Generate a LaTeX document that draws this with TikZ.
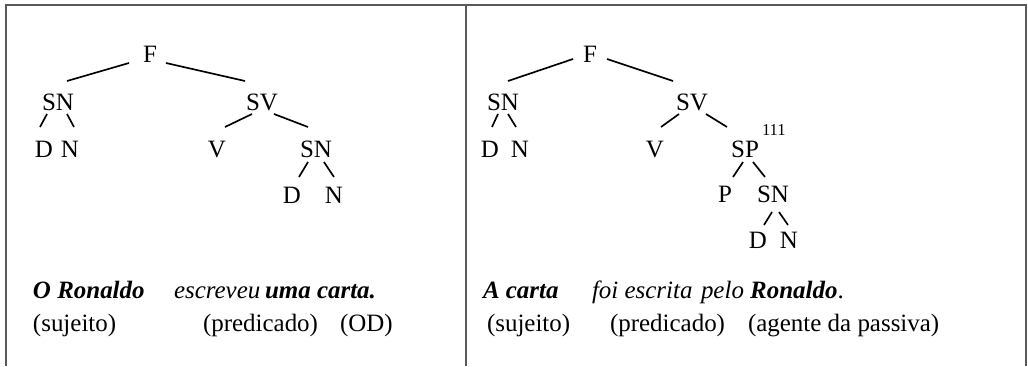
\documentclass[tikz,border=0pt]{standalone}
\usepackage{fontspec}
\setmainfont{Liberation Serif}
\begin{document}
\begin{tikzpicture}[x=0.4808pt,y=-0.4808pt,
  every node/.style={inner sep=0pt,outer sep=0pt},
  lab/.style={anchor=base,font=\fontsize{12}{14}\selectfont},
  txt/.style={anchor=base west,font=\fontsize{12}{14}\selectfont},
  supx/.style={anchor=base west,font=\fontsize{8}{9}\selectfont},
  edge/.style={line width=0.8pt},
  frame/.style={draw=black!65,line width=1pt}]
\useasboundingbox (0,0) rectangle (1028,366);
\draw[frame] (6,366) -- (6,5) -- (1026,5) -- (1026,366);
\draw[frame] (466,5) -- (466,366);

% ---------- left tree ----------
\node[lab] (lF) at (150,62) {F};
\node[lab] (lSN) at (58,110) {SN};
\node[lab] (lSV) at (262,110) {SV};
\node[lab] (lD1) at (44,157) {D};
\node[lab] (lN1) at (70,157) {N};
\node[lab] (lV) at (217,157) {V};
\node[lab] (lSN2) at (316,157) {SN};
\node[lab] (lD2) at (292,203) {D};
\node[lab] (lN2) at (334,203) {N};

\draw[edge] ([shift={(-21,1)}]lF.base) -- ([shift={(9,-29)}]lSN.base);
\draw[edge] ([shift={(16,1)}]lF.base) -- ([shift={(-17,-29)}]lSV.base);
\draw[edge] ([shift={(-11,4)}]lSN.base) -- ([shift={(-4,-30)}]lD1.base);
\draw[edge] ([shift={(9,4)}]lSN.base) -- ([shift={(4,-30)}]lN1.base);
\draw[edge] ([shift={(-10,4)}]lSV.base) -- ([shift={(8,-30)}]lV.base);
\draw[edge] ([shift={(12,4)}]lSV.base) -- ([shift={(-8,-30)}]lSN2.base);
\draw[edge] ([shift={(-8,5)}]lSN2.base) -- ([shift={(7,-26)}]lD2.base);
\draw[edge] ([shift={(8,5)}]lSN2.base) -- ([shift={(0,-26)}]lN2.base);

% ---------- left sentence ----------
\node[txt] (l1a) at (33,298) {\textbf{\textit{O Ronaldo}}};
\node[txt] (l1b) at (174,298) {\textit{escreveu}};
\node[txt] (l1c) at (265,298) {\textbf{\textit{uma carta.}}};
\node[txt] (l2a) at (33,331) {(sujeito)};
\node[txt] (l2b) at (203,331) {(predicado)};
\node[txt] (l2c) at (340,331) {(OD)};

% ---------- right tree ----------
\node[lab] (rF) at (590,62) {F};
\node[lab] (rSN) at (503,110) {SN};
\node[lab] (rSV) at (692,110) {SV};
\node[lab] (rD1) at (490,157) {D};
\node[lab] (rN1) at (520,157) {N};
\node[lab] (rV) at (655,157) {V};
\node[lab] (rSP) at (745,157) {SP};
\node[supx] (rsup) at (762,135) {111};
\node[lab] (rP) at (725,202) {P};
\node[lab] (rSN2) at (773,202) {SN};
\node[lab] (rD2) at (758,248) {D};
\node[lab] (rN2) at (789,248) {N};

\draw[edge] ([shift={(-17,-3)}]rF.base) -- ([shift={(5,-29)}]rSN.base);
\draw[edge] ([shift={(17,-3)}]rF.base) -- ([shift={(-19,-29)}]rSV.base);
\draw[edge] ([shift={(-5,4)}]rSN.base) -- ([shift={(2,-30)}]rD1.base);
\draw[edge] ([shift={(5,4)}]rSN.base) -- ([shift={(-4,-30)}]rN1.base);
\draw[edge] ([shift={(-13,4)}]rSV.base) -- ([shift={(6,-30)}]rV.base);
\draw[edge] ([shift={(14,4)}]rSV.base) -- ([shift={(-18,-30)}]rSP.base);
\draw[edge] ([shift={(-2,5)}]rSP.base) -- ([shift={(8,-25)}]rP.base);
\draw[edge] ([shift={(8,5)}]rSP.base) -- ([shift={(-8,-25)}]rSN2.base);
\draw[edge] ([shift={(-1,10)}]rSN2.base) -- ([shift={(6,-23)}]rD2.base);
\draw[edge] ([shift={(6,10)}]rSN2.base) -- ([shift={(-1,-23)}]rN2.base);

% ---------- right sentence ----------
\node[txt] (r1a) at (483,298) {\textbf{\textit{A carta}}};
\node[txt] (r1b) at (592,298) {\textit{foi escrita}};
\node[txt] (r1c) at (701,298) {\textit{pelo} \textbf{\textit{Ronaldo}}.};
\node[txt] (r2a) at (487,331) {(sujeito)};
\node[txt] (r2b) at (610,331) {(predicado)};
\node[txt] (r2c) at (748,331) {(agente da passiva)};
\end{tikzpicture}
\end{document}
